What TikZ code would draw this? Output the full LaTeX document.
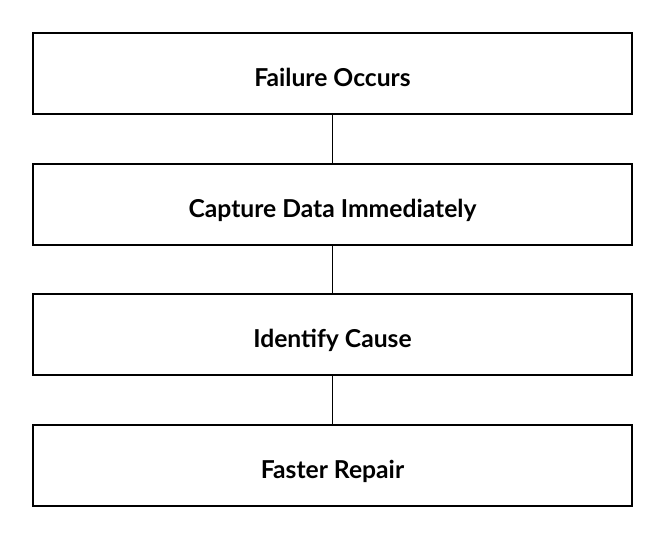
\documentclass[tikz,border=0pt]{standalone}
\usepackage{fontspec}
\setmainfont{Lato}
\begin{document}
\begin{tikzpicture}[x=0.75pt,y=-0.75pt,
  stepbox/.style={draw=black,line width=1.1pt,minimum width=449.25pt,minimum height=60.75pt,inner sep=0pt,text height=18.75pt,text depth=0pt,font=\bfseries\fontsize{18.5}{22}\selectfont,fill=white},
  link/.style={draw=black,line width=0.9pt}]
\useasboundingbox[fill=white] (0,0) rectangle (668,540);
\node[stepbox] (a) at (332.5,73.5) {Failure Occurs};
\node[stepbox] (b) at (332.5,204.5) {Capture Data Immediately};
\node[stepbox] (c) at (332.5,334.5) {Identify Cause};
\node[stepbox] (d) at (332.5,465.5) {Faster Repair};
\draw[link] (a) -- (b);
\draw[link] (b) -- (c);
\draw[link] (c) -- (d);
\end{tikzpicture}
\end{document}
